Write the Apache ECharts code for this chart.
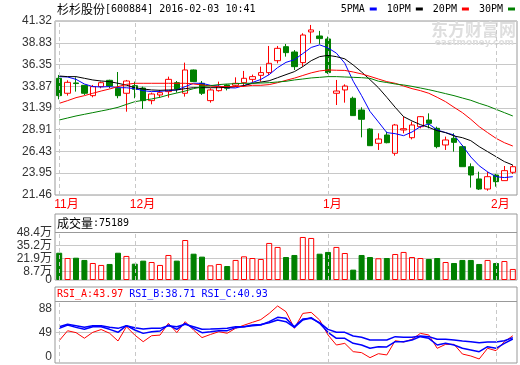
<!DOCTYPE html>
<html><head><meta charset="utf-8">
<script src="https://cdn.jsdelivr.net/npm/echarts@6/dist/echarts.min.js"></script>
<style>html,body{margin:0;padding:0;background:#fff}#c{width:520px;height:365px}</style>
</head><body><div id="c"></div>
<script>
const dates = ['2015-11-18','2015-11-19','2015-11-20','2015-11-23','2015-11-24','2015-11-25','2015-11-26','2015-11-27','2015-11-30',
'2015-12-01','2015-12-02','2015-12-03','2015-12-04','2015-12-07','2015-12-08','2015-12-09','2015-12-10','2015-12-11','2015-12-14','2015-12-15','2015-12-16','2015-12-17','2015-12-18','2015-12-21','2015-12-22','2015-12-23','2015-12-24','2015-12-25','2015-12-28','2015-12-29','2015-12-30','2015-12-31',
'2016-01-04','2016-01-05','2016-01-06','2016-01-07','2016-01-08','2016-01-11','2016-01-12','2016-01-13','2016-01-14','2016-01-15','2016-01-18','2016-01-19','2016-01-20','2016-01-21','2016-01-22','2016-01-25','2016-01-26','2016-01-27','2016-01-28','2016-01-29',
'2016-02-01','2016-02-02','2016-02-03'];
const opens  = [34.78,33.07,34.25,33.98,32.80,33.83,34.55,33.64,33.07,33.94,33.67,32.23,32.88,33.26,34.28,33.07,35.73,34.21,32.23,33.37,34.02,33.98,34.28,34.66,35.12,35.43,36.79,38.39,37.78,36.57,40.07,39.61,39.27,33.07,33.45,32.50,31.16,28.99,27.36,28.31,26.22,28.88,28.00,29.26,30.02,29.07,27.17,27.93,26.98,24.69,23.29,22.14,23.74,23.10,24.05];
const closes = [32.80,34.32,34.18,33.07,33.83,34.28,33.90,32.80,34.47,33.52,32.23,32.99,33.14,34.66,33.56,35.73,34.40,33.07,33.45,33.83,33.64,34.21,34.78,34.97,35.43,36.49,38.20,37.71,36.11,39.72,40.30,39.31,35.43,33.33,33.90,30.52,30.10,27.09,27.85,27.43,29.45,29.03,29.45,30.40,29.64,26.98,27.74,27.47,24.69,23.74,22.14,23.55,22.98,24.24,24.69];
const lows   = [32.38,32.80,33.26,32.88,32.61,33.64,33.64,32.50,30.97,32.50,31.28,31.81,32.61,32.57,33.14,32.69,34.36,32.88,32.00,33.26,33.40,33.83,33.83,34.30,34.40,35.16,36.49,37.25,35.73,36.11,38.77,38.66,35.28,31.73,32.00,30.50,28.04,27.05,26.60,27.36,25.95,28.50,27.81,29.07,29.07,26.79,26.60,26.41,24.69,22.30,22.03,21.95,22.41,23.10,23.86];
const highs  = [35.16,34.55,34.89,34.02,34.02,34.40,34.62,35.50,34.59,34.40,33.83,33.14,33.45,34.97,34.47,36.57,35.78,34.47,33.64,34.40,34.10,34.89,35.62,35.20,36.11,38.47,38.47,38.70,38.00,39.92,40.87,40.19,39.54,34.59,34.09,32.69,31.47,29.07,28.50,28.69,29.57,30.40,29.83,30.48,30.78,29.26,28.12,28.50,27.17,25.07,24.12,24.12,23.86,24.77,24.88];
const ma5  = [34.97,34.93,34.66,34.13,33.83,33.79,33.83,33.71,33.70,33.60,33.37,33.26,33.29,33.37,33.45,33.83,34.21,34.21,33.98,33.90,33.70,33.68,33.95,34.30,34.65,35.20,36.00,36.60,36.90,37.60,38.30,38.60,38.25,37.65,36.50,34.45,32.80,31.00,29.80,28.58,28.46,28.23,28.65,29.26,29.57,28.88,28.58,28.31,27.10,25.80,24.80,24.10,23.55,23.45,23.55];
const ma10 = [35.04,34.97,34.97,34.78,34.59,34.47,34.40,34.21,34.00,33.71,33.56,33.45,33.41,33.45,33.45,33.60,33.71,33.71,33.71,33.71,33.75,33.83,33.94,34.20,34.35,34.50,34.85,35.20,35.54,36.11,36.79,37.25,37.40,37.25,37.00,36.30,35.50,34.62,33.71,32.61,31.47,30.40,29.91,29.49,29.18,28.80,28.58,28.20,28.00,27.66,26.98,26.41,25.84,25.27,24.88];
const ma20 = [31.92,32.23,32.57,32.80,33.07,33.33,33.56,33.83,34.09,34.21,34.21,34.21,34.21,34.21,34.21,34.21,34.13,34.02,33.90,33.83,33.83,33.83,33.86,33.98,33.98,34.06,34.28,34.55,34.80,35.10,35.40,35.62,35.73,35.70,35.68,35.50,35.28,35.00,34.70,34.40,34.21,33.90,33.60,33.37,33.07,32.61,32.11,31.47,30.86,30.10,29.26,28.58,27.93,27.43,27.05];
const ma30 = [30.02,30.25,30.48,30.67,30.86,31.05,31.24,31.47,31.80,32.11,32.27,32.42,32.61,32.88,33.10,33.33,33.60,33.83,33.94,34.06,34.13,34.17,34.21,34.21,34.24,34.28,34.36,34.44,34.59,34.70,34.82,34.89,34.97,34.97,34.93,34.89,34.85,34.78,34.45,34.30,34.13,34.02,33.86,33.67,33.48,33.26,33.03,32.80,32.53,32.27,31.92,31.62,31.24,30.86,30.48];
const volumes = [27.9,22.5,22.8,20.5,17.4,15.4,16.4,27.9,24.6,16.7,19.8,18.4,15.4,25.6,19.8,40.9,26.9,23.9,15.0,16.4,14.3,20.5,24.2,22.5,21.5,37.9,33.8,23.5,25.6,44.0,43.0,26.9,28.7,33.8,27.6,10.6,25.6,23.5,22.2,22.5,26.6,28.7,23.5,22.5,21.5,22.5,18.4,17.4,20.5,20.5,16.4,20.5,17.4,19.4,11.3];
const rsiA = [36,52,49,40,49.5,54,48,35.5,58.6,45,34.4,44,45,64,49,66.7,53,41,46,50.5,48,56,61,65.6,70,80,92,82.8,55.9,80,81.7,69.4,45.2,29,31.7,18.3,16.7,8.6,15,13,36,33.9,38.2,47.8,45.2,23.7,30.1,30.1,14.5,11.3,6.5,23.7,19.9,34.4,43.97];
const rsiB = [55.9,61.3,57.5,54.3,58.6,58.6,54.3,49.5,60.2,53.2,47.8,50.5,51.6,61.3,54.3,64,55.9,48.9,50.5,52.2,52.2,57,58.6,61.3,62,65,69.4,66.7,57.5,69.4,73.1,64,49.5,39.8,39.8,31.7,29,23.7,26.3,26,34.4,34.4,37.1,42.5,39.8,29,31.7,29,23.7,21,18.3,26.3,23.7,31.7,38.71];
const rsiC = [58.6,62.4,60.2,57.5,60.2,60.2,57.5,55.9,60.2,57,54.8,55.9,55.9,60.2,58.6,62.4,58.6,54.3,54.8,55.4,55.9,58.6,58.6,60.2,61.3,66.7,73.7,72,58.6,71,72,65,54.3,49.5,49.5,43.5,41.4,37.1,37.1,37.1,42.5,41.4,41.4,43.5,42.5,38.2,38.2,37.1,35.5,34.4,32.8,33.9,33.9,36,40.93];
const priceTicks = [21.46,23.95,26.43,28.91,31.39,33.87,36.35,38.83,41.32];
const volTicks = [8.7,21.9,35.2,48.4];
const volZero = [0];
const rsiTicks = [0,49,88];
const rsiGrid = [49,100];
const volLast = 75189;
const stockTitle = '杉杉股份';
const stockCode = '[600884] 2016-02-03 10:41';

const monthStarts = dates.map((d,i)=> (i===0 || d.slice(5,7)!==dates[i-1].slice(5,7)) ? i : -1).filter(i=>i>=0);
const MONO = '"DejaVu Sans Mono", monospace';
const SANS = '"Liberation Sans", "Noto Sans CJK SC", sans-serif';
const CJK = '"Noto Sans CJK SC", sans-serif';
const RED = '#ff0000', GREEN = '#008000', BLUE = '#0000ff';

function monthLines(lo, hi){
  return {
    silent: true, symbol: ['none','none'], label: {show:false},
    lineStyle: {color:'#c8c8c8', type:[4,3], width:1},
    data: monthStarts.map(i => [{coord:[dates[i], lo]}, {coord:[dates[i], hi]}])
  };
}
const chart = echarts.init(document.getElementById('c'));
const gridBase = {left:55, width:462, show:true, borderColor:'#999', borderWidth:1, backgroundColor:'transparent'};
const xBase = (gi, showLabel) => ({
  type:'category', gridIndex:gi, data:dates, boundaryGap:true,
  axisLine:{show:false}, axisTick:{show:false}, splitLine:{show:false},
  axisLabel: showLabel ? {
    show:true, interval:(i)=>monthStarts.includes(i), margin:4,
    color:RED, fontSize:12, fontFamily:SANS, align:'left', padding:[0,0,0,-5],
    formatter:(v)=> parseInt(v.slice(5,7),10)+'月'
  } : {show:false}
});
const yLabel = {fontSize:12, color:'#333', fontFamily:SANS, margin:3, showMinLabel:true, showMaxLabel:true, hideOverlap:false};
const richC = {fontFamily:CJK,fontSize:12,color:'#000',fontWeight:'normal'};
const richM = {fontFamily:MONO,fontSize:10,color:'#000',fontWeight:'normal'};
const VOL_AXIS_MAX = 67.5, RSI_AXIS_MAX = 122.6;
chart.setOption({
  animation:false,
  title:[
    {left:57, top:3, padding:0, text:'{c|'+stockTitle+'}{m|'+stockCode+'}',
     textStyle:{fontWeight:'normal', rich:{c:richC,m:richM}}},
    {left:57, top:217, padding:0, text:'{c|成交量}{m|:'+volLast+'}',
     textStyle:{fontWeight:'normal', rich:{c:richC,m:richM}}},
    {left:57, top:289, padding:0,
     text:'{a|RSI_A:'+rsiA[rsiA.length-1].toFixed(2)+'} {b|RSI_B:'+rsiB[rsiB.length-1].toFixed(2)+'} {b|RSI_C:'+rsiC[rsiC.length-1].toFixed(2)+'}',
     textStyle:{fontFamily:MONO,fontSize:10,fontWeight:'normal',
       rich:{a:{fontFamily:MONO,fontSize:10,color:RED,fontWeight:'normal'},b:{fontFamily:MONO,fontSize:10,color:BLUE,fontWeight:'normal'}}}}
  ],
  legend:{right:5, top:4, padding:0, align:'right', icon:'rect', itemWidth:7, itemHeight:3, itemGap:10,
    textStyle:{fontFamily:MONO, fontSize:10, color:'#000'}, data:['5PMA','10PM','20PM','30PM']},
  graphic:[
    {type:'text', right:4, top:21, z:1, silent:true, style:{text:'东方财富网', font:'bold 17px "Noto Sans CJK SC"', fill:'#dedede'}},
    {type:'text', right:6, top:38, z:1, silent:true, style:{text:'eastmoney.com', font:'bold 9px "DejaVu Sans"', fill:'#dedede'}}
  ],
  grid:[
    Object.assign({top:21, height:174}, gridBase),
    Object.assign({top:214, height:66}, gridBase),
    Object.assign({top:287, height:76}, gridBase)
  ],
  xAxis:[xBase(0,true), xBase(1,false), xBase(2,false)],
  yAxis:[
    {type:'value', gridIndex:0, min:priceTicks[0], max:priceTicks[priceTicks.length-1],
     axisLine:{show:false}, axisTick:{show:false, customValues:priceTicks},
     axisLabel:Object.assign({customValues:priceTicks, formatter:v=>v.toFixed(2)}, yLabel),
     splitLine:{show:true, lineStyle:{color:'#c8c8c8'}}},
    {type:'value', gridIndex:1, min:0, max:VOL_AXIS_MAX,
     axisLine:{show:false}, axisTick:{show:false, customValues:volTicks},
     axisLabel:Object.assign({customValues:volTicks, formatter:v=> v+'万'}, yLabel),
     splitLine:{show:true, lineStyle:{color:['#c8c8c8','#c8c8c8','#c8c8c8','#999']}}},
    {type:'value', gridIndex:2, min:0, max:RSI_AXIS_MAX,
     axisLine:{show:false}, axisTick:{show:false, customValues:rsiGrid},
     axisLabel:Object.assign({customValues:rsiTicks, verticalAlignMinLabel:'bottom'}, yLabel),
     splitLine:{show:true, lineStyle:{color:['#c8c8c8','#999']}}},
    {type:'value', gridIndex:1, min:0, max:VOL_AXIS_MAX, position:'left',
     axisLine:{show:false}, axisTick:{show:false, customValues:volZero},
     axisLabel:Object.assign({customValues:volZero, formatter:v=>String(v)}, yLabel),
     splitLine:{show:false}}
  ],
  series:[
    {type:'candlestick', xAxisIndex:0, yAxisIndex:0, barWidth:6,
     data: dates.map((d,i)=>[opens[i],closes[i],lows[i],highs[i]]),
     itemStyle:{color:'rgba(255,255,255,0)', color0:GREEN, borderColor:RED, borderColor0:GREEN, borderWidth:1},
     markLine: monthLines(priceTicks[0], priceTicks[priceTicks.length-1])},
    {name:'5PMA', type:'line', xAxisIndex:0, yAxisIndex:0, data:ma5, symbol:'none', color:BLUE, lineStyle:{width:1,color:BLUE}},
    {name:'10PM', type:'line', xAxisIndex:0, yAxisIndex:0, data:ma10, symbol:'none', color:'#000', lineStyle:{width:1,color:'#000'}},
    {name:'20PM', type:'line', xAxisIndex:0, yAxisIndex:0, data:ma20, symbol:'none', color:RED, lineStyle:{width:1,color:RED}},
    {name:'30PM', type:'line', xAxisIndex:0, yAxisIndex:0, data:ma30, symbol:'none', color:GREEN, lineStyle:{width:1,color:GREEN}},
    {type:'bar', xAxisIndex:1, yAxisIndex:1, barWidth:6,
     data: volumes.map((v,i)=>{ const up = closes[i]>=opens[i];
       return {value:v, itemStyle:{color: up?'rgba(255,255,255,0)':GREEN, borderColor: up?RED:GREEN, borderWidth:1}}; }),
     markLine: monthLines(0, volTicks[volTicks.length-1])},
    {name:'RSI_A', type:'line', xAxisIndex:2, yAxisIndex:2, data:rsiA, symbol:'none', lineStyle:{width:1,color:RED},
     markLine: monthLines(0, 100)},
    {name:'RSI_B', type:'line', xAxisIndex:2, yAxisIndex:2, data:rsiB, symbol:'none', lineStyle:{width:1.5,color:BLUE}},
    {name:'RSI_C', type:'line', xAxisIndex:2, yAxisIndex:2, data:rsiC, symbol:'none', lineStyle:{width:1.5,color:BLUE}}
  ]
});
</script></body></html>
